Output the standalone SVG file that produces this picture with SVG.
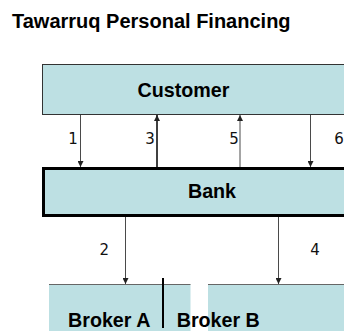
<svg xmlns="http://www.w3.org/2000/svg" width="344" height="331" viewBox="0 0 344 331">
<style>
.box{fill:#bde0e3}
.lbl{font-family:"Liberation Sans",Arial,sans-serif;font-weight:bold;font-size:19.7px;fill:#000}
.num{font-family:"DejaVu Sans",Verdana,sans-serif;font-size:15px;fill:#111;text-anchor:middle}
.ln{stroke:#4a4a4a;stroke-width:1;fill:none}
.lnb{stroke:#000;stroke-width:1.5;fill:none}
</style>
<defs>
<marker id="ah" viewBox="0 0 6 6" refX="6" refY="3" markerWidth="6" markerHeight="6" markerUnits="userSpaceOnUse" orient="auto">
<path d="M0,0 L6,3 L0,6 Z" fill="#222"/>
</marker>
</defs>
<rect width="344" height="331" fill="#fff"/>
<text x="12" y="27.5" class="lbl" style="font-size:20px">Tawarruq Personal Financing</text>
<g id="customer">
<rect class="box" x="42.5" y="64.5" width="320" height="50" stroke="#333" stroke-width="1"/>
<text x="183.5" y="96.7" class="lbl" text-anchor="middle">Customer</text>
</g>
<g id="bank">
<rect class="box" x="43.5" y="168.5" width="320" height="47" stroke="#000" stroke-width="3"/>
<text x="212" y="197.5" class="lbl" text-anchor="middle">Bank</text>
</g>
<g id="brokerA">
<rect class="box" x="49" y="284.5" width="141.5" height="60"/>
<line x1="49" y1="284.5" x2="190.5" y2="284.5" stroke="#666" stroke-width="1"/>
<text x="68" y="327" class="lbl">Broker A</text>
</g>
<g id="brokerB">
<rect class="box" x="208" y="284.5" width="150" height="60"/>
<line x1="208" y1="284.5" x2="344" y2="284.5" stroke="#666" stroke-width="1"/>
<text x="176.7" y="327" class="lbl">Broker B</text>
</g>
<g id="divider">
<line x1="163" y1="278" x2="163" y2="328" stroke="#000" stroke-width="2"/>
</g>
<g id="connectors">
<line class="ln" x1="80.5" y1="115" x2="80.5" y2="167" marker-end="url(#ah)"/>
<line class="lnb" x1="157" y1="167" x2="157" y2="115" marker-end="url(#ah)"/>
<line class="ln" x1="240" y1="167" x2="240" y2="115" marker-end="url(#ah)"/>
<line class="ln" x1="310.5" y1="115" x2="310.5" y2="167" marker-end="url(#ah)"/>
<line class="ln" x1="125.5" y1="217" x2="125.5" y2="284" marker-end="url(#ah)"/>
<line class="ln" x1="278.5" y1="217" x2="278.5" y2="284" marker-end="url(#ah)"/>
<text x="73" y="143.5" class="num">1</text>
<text x="150" y="143.5" class="num">3</text>
<text x="234" y="143.5" class="num">5</text>
<text x="339" y="143.5" class="num">6</text>
<text x="104.3" y="254.5" class="num">2</text>
<text x="315" y="255" class="num">4</text>
</g>
</svg>
